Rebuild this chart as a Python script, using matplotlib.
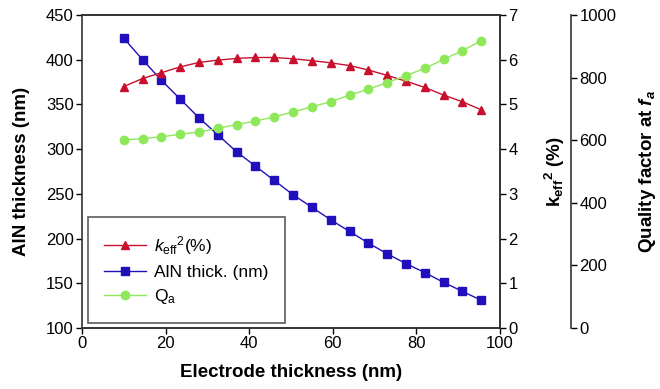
import matplotlib
matplotlib.use('Agg')
import matplotlib.pyplot as plt
import numpy as np

plt.rcParams['font.family'] = ['Liberation Sans', 'DejaVu Sans']
plt.rcParams['mathtext.fontset'] = 'custom'
plt.rcParams['mathtext.rm'] = 'Liberation Sans'
plt.rcParams['mathtext.it'] = 'Liberation Sans:italic'
plt.rcParams['mathtext.bf'] = 'Liberation Sans:bold'
plt.rcParams['mathtext.bfit'] = 'Liberation Sans:italic:bold'

# electrode thickness (nm)
electrode = [10, 14.5, 19, 23.5, 28, 32.5, 37, 41.5, 46, 50.5,
             55, 59.5, 64, 68.5, 73, 77.5, 82, 86.5, 91, 95.5]
# AlN thickness (nm), left axis
aln = [424, 400, 377, 356, 335, 316, 297, 281, 265, 249,
       235, 221, 208, 195, 183, 172, 162, 151, 141, 131]
# keff^2 (%), first right axis
keff = [5.40, 5.58, 5.71, 5.84, 5.94, 5.99, 6.03, 6.05, 6.05, 6.02,
        5.98, 5.93, 5.87, 5.77, 5.65, 5.52, 5.38, 5.21, 5.06, 4.88]
# quality factor Qa, second right axis
qa = [601, 605, 611, 619, 626, 638, 650, 661, 675, 690,
      707, 723, 744, 763, 784, 806, 830, 858, 886, 918]

red = '#c8102e'
blue = '#2010bb'
green = '#8ee85a'
spine_col = '#333333'

fig = plt.figure(figsize=(6.6, 3.89), dpi=100)
ax = fig.add_axes([0.1242, 0.1568, 0.6334, 0.8046])
ax2 = ax.twinx()
ax3 = ax.twinx()
ax3.spines['right'].set_position(('axes', 1.17))

l1, = ax2.plot(electrode, keff, color=red, marker='^', markersize=6, lw=1, label='$k_{\\rm eff}$$^{2}$(%)')
l2, = ax.plot(electrode, aln, color=blue, marker='s', markersize=5.5, lw=1, label='AlN thick. (nm)')
l3, = ax3.plot(electrode, qa, color=green, marker='o', markersize=6, lw=1, label='Q$_{\\rm a}$')

ax.set_xlim(0, 100)
ax.set_ylim(100, 450)
ax2.set_ylim(0, 7)
ax3.set_ylim(0, 1000)
ax.set_xticks(np.arange(0, 101, 20))
ax.set_yticks(np.arange(100, 451, 50))
ax2.set_yticks(np.arange(0, 8, 1))
ax3.set_yticks(np.arange(0, 1001, 200))

for a in (ax, ax2, ax3):
    a.tick_params(direction='out', length=4, width=1, labelsize=12, colors='black')
    for s in a.spines.values():
        s.set_color(spine_col)
        s.set_linewidth(1.2)
ax.tick_params(axis='y', pad=2)
ax.tick_params(axis='x', pad=2)
ax2.tick_params(axis='y', pad=2)
ax3.tick_params(axis='y', pad=2)
for s in ('left', 'top', 'bottom'):
    ax3.spines[s].set_visible(False)
ax2.spines['left'].set_visible(False)

ax.set_xlabel('Electrode thickness (nm)', fontsize=13.5, fontweight='bold', labelpad=9)
ax.set_ylabel('AlN thickness (nm)', fontsize=13.5, fontweight='bold', labelpad=11)
ax2.set_ylabel('$\\mathbf{k}_{\\mathbf{eff}}$$^{\\mathbf{2}}$ (%)', fontsize=13.5, fontweight='bold', labelpad=18)
ax3.set_ylabel('Quality factor at $\\mathbfit{f}_{\\mathbfit{a}}$', fontsize=13.5, fontweight='bold', labelpad=15)

leg = ax.legend(handles=[l1, l2, l3], loc='lower left', bbox_to_anchor=(0.005, 0.005),
                fontsize=12.5, frameon=True, fancybox=False, handlelength=2.4,
                borderpad=0.95, labelspacing=0.45, handletextpad=0.5, borderaxespad=0.2)
leg.get_frame().set_edgecolor(spine_col)
leg.get_frame().set_linewidth(1.2)

fig.savefig('out.png', dpi=100)
